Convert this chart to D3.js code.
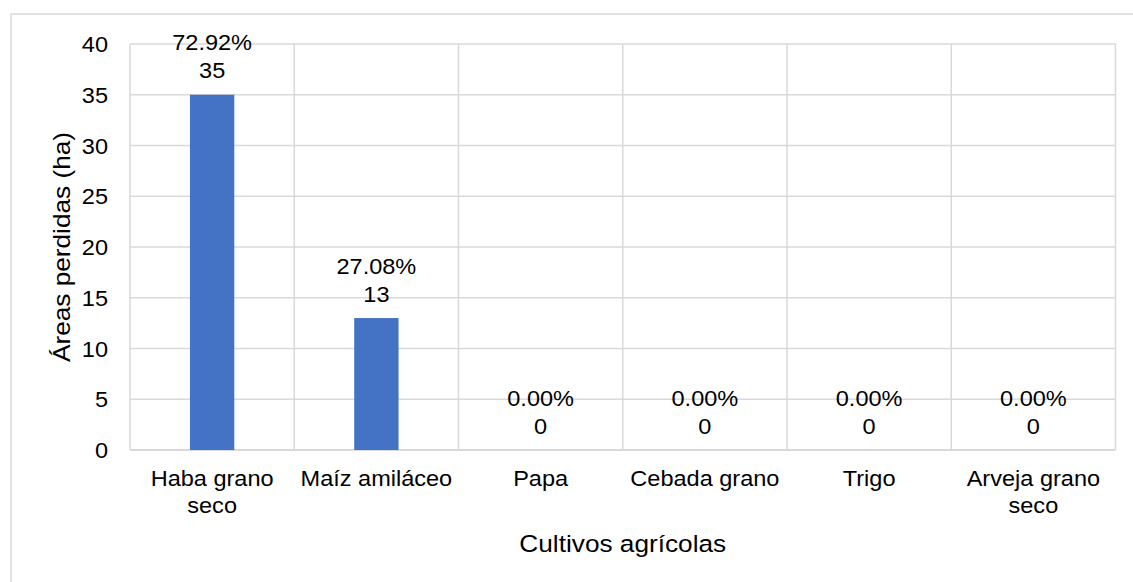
<!DOCTYPE html>
<html>
<head>
<meta charset="utf-8">
<script src="https://cdn.jsdelivr.net/npm/d3@7"></script>
<style>
  body { margin: 0; background: #fff; }
  text { font-family: "Liberation Sans", Arial, sans-serif; fill: #000; }
</style>
</head>
<body>
<svg id="chart" width="1133" height="582"></svg>
<script>
// data
const cultivos = [["Haba grano", "seco"], ["Maíz amiláceo"], ["Papa"], ["Cebada grano"], ["Trigo"], ["Arveja grano", "seco"]];
const areas = [35, 13, 0, 0, 0, 0];
const porcentajes = ["72.92%", "27.08%", "0.00%", "0.00%", "0.00%", "0.00%"];
const yTicks = [0, 5, 10, 15, 20, 25, 30, 35, 40];

const svg = d3.select('#chart');
const fontSize = 22;
const titleSize = 24.5;
const stretch = 1.07; // the reference text is a bit wide

const margin = {left: 130, right: 17.5, top: 44, bottom: 132};
const W = 1133, H = 582;

// outer chart border (left and top only visible)
svg.append('path')
  .attr('d', 'M11,582 L11,14 L1133,14')
  .attr('fill', 'none')
  .attr('stroke', '#d9d9d9')
  .attr('stroke-width', 1.5);

const x = d3.scaleBand()
  .domain(d3.range(cultivos.length))
  .range([margin.left, W - margin.right])
  .paddingInner(0)
  .paddingOuter(0);

const y = d3.scaleLinear()
  .domain([0, 40])
  .range([H - margin.bottom, margin.top]);

function addText(g, tx, ty, str, anchor, rotate, size) {
  const t = g.append('text')
    .attr('transform', 'translate(' + tx + ',' + ty + ')' + (rotate ? ' rotate(' + rotate + ')' : '') + ' scale(' + stretch + ',1)')
    .attr('text-anchor', anchor || 'middle')
    .style('font-size', (size || fontSize) + 'px')
    .text(str);
  return t;
}

// grid
const grid = svg.append('g');
grid.selectAll('line.h')
  .data(yTicks)
  .enter().append('line')
  .attr('class', 'h')
  .attr('x1', margin.left).attr('x2', W - margin.right)
  .attr('y1', d => y(d)).attr('y2', d => y(d))
  .attr('stroke', '#d9d9d9')
  .attr('stroke-width', d => d === 0 ? 2 : 1.5);

const bounds = d3.range(cultivos.length + 1).map(i => i < cultivos.length ? x(i) : x.range()[1]);
grid.selectAll('line.v')
  .data(bounds)
  .enter().append('line')
  .attr('class', 'v')
  .attr('x1', d => d).attr('x2', d => d)
  .attr('y1', y(40)).attr('y2', y(0))
  .attr('stroke', '#d9d9d9')
  .attr('stroke-width', 1.5);

// bars
const barW = x.bandwidth() * 0.27;
svg.selectAll('rect.bar')
  .data(areas)
  .enter().append('rect')
  .attr('class', 'bar')
  .attr('x', (d, i) => x(i) + x.bandwidth() / 2 - barW / 2)
  .attr('y', d => y(d))
  .attr('width', barW)
  .attr('height', d => y(0) - y(d))
  .attr('fill', '#4472c4');

// data labels
const labels = svg.append('g');
areas.forEach((d, i) => {
  const cx = x(i) + x.bandwidth() / 2;
  addText(labels, cx, y(d) - 44.5, porcentajes[i]);
  addText(labels, cx, y(d) - 16.5, String(d));
});

// y tick labels
const yAxis = svg.append('g');
yTicks.forEach(t => {
  addText(yAxis, 108, y(t) + 8, String(t), 'end');
});

// x tick labels
const xAxis = svg.append('g');
cultivos.forEach((lines, i) => {
  const cx = x(i) + x.bandwidth() / 2;
  lines.forEach((ln, j) => addText(xAxis, cx, 486 + j * 27, ln));
});

// axis titles
addText(svg, (x.range()[0] + x.range()[1]) / 2, 552, 'Cultivos agrícolas', 'middle', 0, titleSize);
addText(svg, 70, (y(0) + y(40)) / 2, 'Áreas perdidas (ha)', 'middle', -90, titleSize);
</script>
</body>
</html>
